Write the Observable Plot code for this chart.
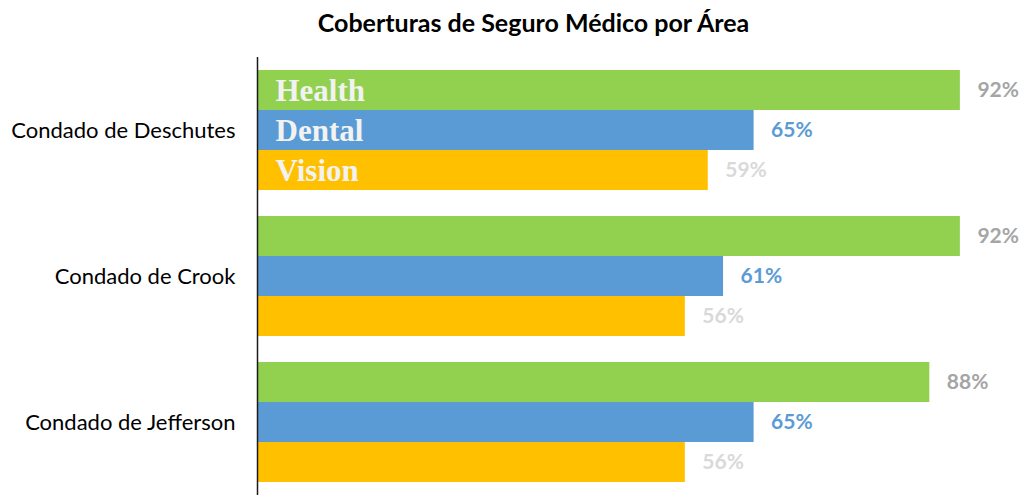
<!DOCTYPE html>
<html>
<head>
<meta charset="utf-8">
<script src="https://cdn.jsdelivr.net/npm/d3@7"></script>
<script src="https://cdn.jsdelivr.net/npm/@observablehq/plot@0.6"></script>
<style>
  html, body { margin: 0; padding: 0; background: white; }
  #title { width: 1021px; height: 45px; box-sizing: border-box; padding-left: 46px; text-align: center;
           font-family: Lato, sans-serif; font-weight: bold; font-size: 25px; line-height: 45px; color: #000; }
  #chart svg { display: block; }
</style>
</head>
<body>
<div id="title">Coberturas de Seguro Médico por Área</div>
<div id="chart"></div>
<script>
const counties = ["Condado de Deschutes", "Condado de Crook", "Condado de Jefferson"];
const series = ["Health", "Dental", "Vision"];
const health = [92, 92, 88];
const dental = [65, 61, 65];
const vision = [59, 56, 56];
const barColors = ["#92D050", "#5B9BD5", "#FFC000"];
const labelColors = ["#A5A5A5", "#5B9BD5", "#D9D9D9"];

const valuesBySeries = [health, dental, vision];
const data = [];
counties.forEach((c, i) => {
  series.forEach((s, j) => {
    data.push({county: c, series: s, value: valuesBySeries[j][i]});
  });
});

const plot = Plot.plot({
  width: 1021,
  height: 452,
  marginLeft: 257,
  marginRight: 0,
  marginTop: 11,
  marginBottom: 1.5,
  style: {fontFamily: "Lato, sans-serif", background: "white", color: "#000"},
  x: {domain: [0, 100], axis: null},
  y: {domain: series, padding: 0, axis: null},
  fy: {domain: counties, paddingInner: 0.18, paddingOuter: 0.09, label: null},
  color: {domain: series, range: barColors},
  marks: [
    Plot.barX(data, {x: "value", y: "series", fy: "county", fill: "series"}),
    Plot.ruleX([0], {stroke: "#1a1a1a", strokeWidth: 1.5, insetTop: -13, insetBottom: -13}),
    ...series.map((s, j) => Plot.text(data.filter(d => d.series === s), {
      x: "value", y: "series", fy: "county",
      text: d => d.value + "%",
      dx: 17, textAnchor: "start", fill: labelColors[j],
      fontWeight: "bold", fontSize: 21
    })),
    Plot.text(data.filter(d => d.county === counties[0]), {
      x: 0, y: "series", fy: "county", text: "series",
      dx: 18, dy: 1, textAnchor: "start", fill: "#F2F2F2",
      fontFamily: "Liberation Serif, serif", fontWeight: "bold", fontSize: 31
    }),
    Plot.axisFy({anchor: "left", tickSize: 0, tickPadding: 22, fontSize: 22, label: null})
  ]
});
document.getElementById("chart").appendChild(plot);
</script>
</body>
</html>
